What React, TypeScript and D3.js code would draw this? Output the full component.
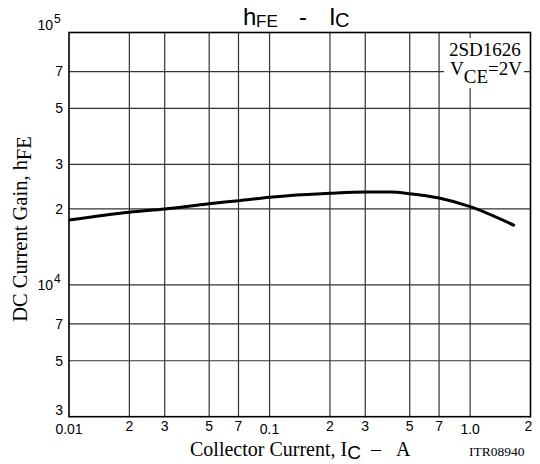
import * as React from 'react'
import * as d3 from 'd3'

// hFE - IC curve, 2SD1626, VCE = 2V
const currentA = [0.01, 0.02, 0.03, 0.05, 0.07, 0.1, 0.2, 0.3, 0.4, 0.5, 0.7, 1.0, 1.67]
const gainHfe = [18060, 19390, 19970, 20960, 21540, 22230, 23060, 23330, 23300, 22970, 22080, 20400, 17150]

const xTickValues = [0.01, 0.02, 0.03, 0.05, 0.07, 0.1, 0.2, 0.3, 0.5, 0.7, 1.0, 2]
const xTickLabels = ['0.01', '2', '3', '5', '7', '0.1', '2', '3', '5', '7', '1.0', '2']
const xDecades = [0.01, 0.1, 1.0]

const yTickValues = [3000, 5000, 7000, 10000, 20000, 30000, 50000, 70000, 100000]
const yTickLabels = ['3', '5', '7', '10', '2', '3', '5', '7', '10']
const yTickSups = ['', '', '', '4', '', '', '', '', '5']

const dims = { width: 540, height: 464, left: 69, right: 530.5, top: 32.5, bottom: 416.7 }

const sans = 'Liberation Sans, Arial, sans-serif'
const serif = 'Liberation Serif, Times New Roman, serif'

const App: React.FC = () => {
	const x = d3.scaleLog().domain([0.01, 2]).range([dims.left, dims.right])
	const y = d3.scaleLog().domain([3000, 100000]).range([dims.bottom, dims.top])

	const points: [number, number][] = currentA.map((c, i) => [c, gainHfe[i]])
	const line = d3.line<[number, number]>()
		.x(d => x(d[0]))
		.y(d => y(d[1]))
		.curve(d3.curveMonotoneX)

	// label baselines, the end labels sit inside the frame edges
	const yBaseline = (v: number) => {
		if (v === 100000) return y(v) - 3
		if (v === 3000) return y(v) - 1.7
		return y(v) + 4.8
	}

	return (
		<div style={{ position: 'absolute', left: 0, top: 0 }}>
			<svg width={dims.width} height={dims.height} style={{ display: 'block', background: '#fff' }}>
				{/* grid */}
				<g stroke="#333" strokeWidth={1.2}>
					{xTickValues.slice(1, -1).map(v => (
						<line key={'gx' + v} x1={x(v)} x2={x(v)} y1={dims.top} y2={dims.bottom} />
					))}
					{yTickValues.slice(1, -1).map(v => (
						<line key={'gy' + v} x1={dims.left} x2={dims.right} y1={y(v)} y2={y(v)} />
					))}
				</g>

				{/* annotation box */}
				<rect x={444} y={38} width={80} height={50} fill="#fff" />
				<text x={449} y={56} fontFamily={serif} fontSize={19}>2SD1626</text>
				<text x={450} y={75} fontFamily={serif} fontSize={19}>
					<tspan>V</tspan>
					<tspan dy={8}>CE</tspan>
					<tspan dy={-8}>=2V</tspan>
				</text>

				{/* curve */}
				<path d={line(points) || ''} fill="none" stroke="#000" strokeWidth={3} strokeLinejoin="round" />

				{/* frame */}
				<rect x={dims.left} y={dims.top} width={dims.right - dims.left} height={dims.bottom - dims.top}
					fill="none" stroke="#000" strokeWidth={1.6} />

				{/* x tick labels */}
				<g fontFamily={sans} fontSize={14} textAnchor="middle">
					{xTickValues.map((v, i) => (
						<text key={'xl' + i} x={x(v) + (v === 2 ? -2 : 0)} y={xDecades.includes(v) ? 434 : 431}>
							{xTickLabels[i]}
						</text>
					))}
				</g>

				{/* y tick labels */}
				<g fontFamily={sans} fontSize={14}>
					{yTickValues.map((v, i) => yTickSups[i] ? (
						<g key={'yl' + i}>
							<text x={53} y={yBaseline(v)} textAnchor="end">{yTickLabels[i]}</text>
							<text x={54} y={yBaseline(v) - 7} fontSize={12}>{yTickSups[i]}</text>
						</g>
					) : (
						<text key={'yl' + i} x={63} y={yBaseline(v)} textAnchor="end">{yTickLabels[i]}</text>
					))}
				</g>

				{/* title */}
				<text y={25} fontFamily={sans} fontSize={24}>
					<tspan x={243}>h</tspan>
					<tspan x={256} dy={2} fontSize={17}>FE</tspan>
					<tspan x={299} dy={-2}>-</tspan>
					<tspan x={329}>I</tspan>
					<tspan x={335} dy={2} fontSize={20}>C</tspan>
				</text>

				{/* x axis title */}
				<text y={455.5} fontFamily={serif} fontSize={20}>
					<tspan x={190}>Collector Current, I</tspan>
					<tspan dy={3} fontFamily={sans} fontSize={19}>C</tspan>
					<tspan x={371} dy={-3}>–</tspan>
					<tspan x={396}>A</tspan>
				</text>
				<text x={469} y={455.5} fontFamily={serif} fontSize={13.5}>ITR08940</text>

				{/* y axis title */}
				<text transform="translate(27, 229) rotate(-90)" textAnchor="middle" fontFamily={serif} fontSize={20.5}>
					<tspan>DC Current Gain, h</tspan>
					<tspan dy={4}>FE</tspan>
				</text>
			</svg>
		</div>
	)
}

export default App
